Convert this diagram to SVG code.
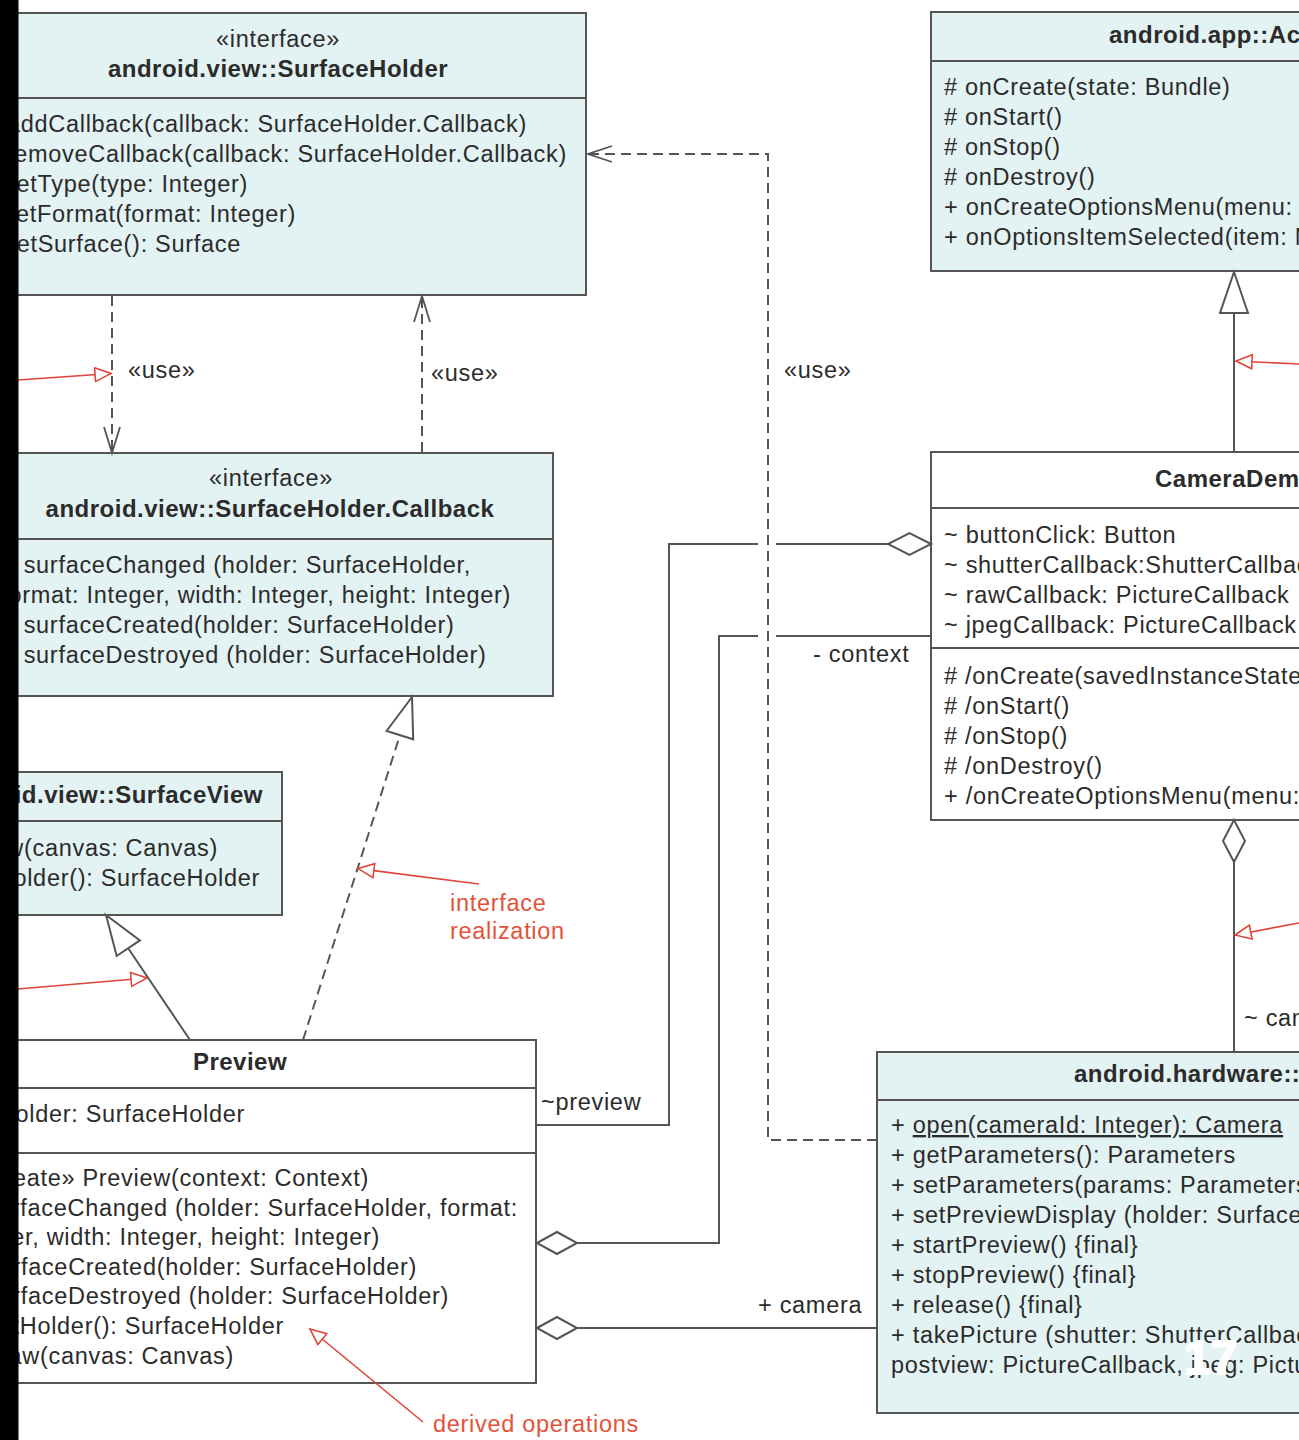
<svg xmlns="http://www.w3.org/2000/svg" width="1299" height="1440" viewBox="0 0 1299 1440">
<style>
.box{fill:#e3f2f2;stroke:#555;stroke-width:2}
.wbox{fill:#fff;stroke:#555;stroke-width:2}
.dv{stroke:#555;stroke-width:2}
.t{font-family:"Liberation Sans",Arial,sans-serif;font-size:23.5px;letter-spacing:0.7px;fill:#2b2b2b}
.b{font-weight:bold;font-size:24px;letter-spacing:0.5px}
.c{text-anchor:middle}
.e{text-anchor:end}
.ln{fill:none;stroke:#555;stroke-width:2}
.dash{stroke-dasharray:10 6}
.head{fill:#fff;stroke:#555;stroke-width:2}
.open{fill:none;stroke:#555;stroke-width:1.8}
.red{fill:none;stroke:#e0453a;stroke-width:1.6}
.rt{fill:#e2533a}
</style>
<defs>
<marker id="rarrow" markerUnits="userSpaceOnUse" markerWidth="20" markerHeight="20" viewBox="0 0 20 20" refX="17" refY="8" orient="auto">
<path d="M1,1 L17,8 L1,15 Z" fill="#fff" stroke="#e0453a" stroke-width="1.6"/>
</marker>
</defs>
<rect width="1299" height="1440" fill="#fff"/>

<g id="SurfaceHolder">
<rect class="box" x="-30" y="13" width="616" height="282"/>
<line class="dv" x1="-30" y1="98" x2="586" y2="98"/>
<text class="t c" x="278" y="47">«interface»</text>
<text class="t b c" x="278" y="77">android.view::SurfaceHolder</text>
<text class="t e" x="527" y="132">+ addCallback(callback: SurfaceHolder.Callback)</text>
<text class="t e" x="567" y="162">+ removeCallback(callback: SurfaceHolder.Callback)</text>
<text class="t e" x="248" y="192">+ setType(type: Integer)</text>
<text class="t e" x="296" y="222">+ setFormat(format: Integer)</text>
<text class="t e" x="241" y="252">+ getSurface(): Surface</text>
</g>

<g id="SurfaceHolderCallback">
<rect class="box" x="-13" y="453" width="566" height="243"/>
<line class="dv" x1="-13" y1="539" x2="553" y2="539"/>
<text class="t c" x="271" y="486">«interface»</text>
<text class="t b c" x="270" y="517">android.view::SurfaceHolder.Callback</text>
<text class="t" x="2" y="573">+ surfaceChanged (holder: SurfaceHolder,</text>
<text class="t e" x="511" y="603">format: Integer, width: Integer, height: Integer)</text>
<text class="t" x="2" y="633">+ surfaceCreated(holder: SurfaceHolder)</text>
<text class="t" x="2" y="663">+ surfaceDestroyed (holder: SurfaceHolder)</text>
</g>

<g id="SurfaceView">
<rect class="box" x="-61" y="772" width="343" height="143"/>
<line class="dv" x1="-61" y1="821" x2="282" y2="821"/>
<text class="t b e" x="263" y="803">android.view::SurfaceView</text>
<text class="t e" x="218" y="856">+ draw(canvas: Canvas)</text>
<text class="t e" x="260" y="886">+ getHolder(): SurfaceHolder</text>
</g>

<g id="Preview">
<rect class="wbox" x="-57" y="1040" width="593" height="343"/>
<line class="dv" x1="-57" y1="1088" x2="536" y2="1088"/>
<line class="dv" x1="-57" y1="1153" x2="536" y2="1153"/>
<text class="t b c" x="240" y="1070">Preview</text>
<text class="t e" x="245" y="1122">- holder: SurfaceHolder</text>
<text class="t e" x="369" y="1186">«create» Preview(context: Context)</text>
<text class="t e" x="518" y="1216">+ /surfaceChanged (holder: SurfaceHolder, format:</text>
<text class="t e" x="380" y="1245">Integer, width: Integer, height: Integer)</text>
<text class="t e" x="417" y="1275">+ /surfaceCreated(holder: SurfaceHolder)</text>
<text class="t e" x="449" y="1304">+ /surfaceDestroyed (holder: SurfaceHolder)</text>
<text class="t e" x="284" y="1334">+ /getHolder(): SurfaceHolder</text>
<text class="t e" x="234" y="1364">+ /draw(canvas: Canvas)</text>
</g>

<g id="Activity">
<rect class="box" x="931" y="12" width="600" height="259"/>
<line class="dv" x1="931" y1="61" x2="1531" y2="61"/>
<text class="t b" x="1109" y="43">android.app::Activity</text>
<text class="t" x="944" y="95"># onCreate(state: Bundle)</text>
<text class="t" x="944" y="125"># onStart()</text>
<text class="t" x="944" y="155"># onStop()</text>
<text class="t" x="944" y="185"># onDestroy()</text>
<text class="t" x="944" y="215">+ onCreateOptionsMenu(menu: Menu): Boolean</text>
<text class="t" x="944" y="245">+ onOptionsItemSelected(item: MenuItem): Boolean</text>
</g>

<g id="CameraDemo">
<rect class="wbox" x="931" y="452" width="600" height="368"/>
<line class="dv" x1="931" y1="508" x2="1531" y2="508"/>
<line class="dv" x1="931" y1="648" x2="1531" y2="648"/>
<text class="t b" x="1155" y="487">CameraDemo</text>
<text class="t" x="944" y="543">~ buttonClick: Button</text>
<text class="t" x="944" y="573">~ shutterCallback:ShutterCallback</text>
<text class="t" x="944" y="603">~ rawCallback: PictureCallback</text>
<text class="t" x="944" y="633">~ jpegCallback: PictureCallback</text>
<text class="t" x="944" y="684"># /onCreate(savedInstanceState: Bundle)</text>
<text class="t" x="944" y="714"># /onStart()</text>
<text class="t" x="944" y="744"># /onStop()</text>
<text class="t" x="944" y="774"># /onDestroy()</text>
<text class="t" x="944" y="804">+ /onCreateOptionsMenu(menu: Menu): Boolean</text>
</g>

<g id="Camera">
<rect class="box" x="877" y="1052" width="650" height="361"/>
<line class="dv" x1="877" y1="1100" x2="1527" y2="1100"/>
<text class="t b" x="1074" y="1082">android.hardware::Camera</text>
<text class="t" x="891" y="1133">+ <tspan text-decoration="underline">open(cameraId: Integer): Camera</tspan></text>
<text class="t" x="891" y="1163">+ getParameters(): Parameters</text>
<text class="t" x="891" y="1193">+ setParameters(params: Parameters)</text>
<text class="t" x="891" y="1223">+ setPreviewDisplay (holder: SurfaceHolder)</text>
<text class="t" x="891" y="1253">+ startPreview() {final}</text>
<text class="t" x="891" y="1283">+ stopPreview() {final}</text>
<text class="t" x="891" y="1313">+ release() {final}</text>
<text class="t" x="891" y="1343">+ takePicture (shutter: ShutterCallback, raw: PictureCallback,</text>
<text class="t" x="891" y="1373">postview: PictureCallback, jpeg: PictureCallback)</text>
</g>

<g id="connectors">
<line class="ln dash" x1="112" y1="296" x2="112" y2="452"/>
<polyline class="open" points="104,427 112,453 120,427"/>
<text class="t" x="128" y="378">«use»</text>
<line class="ln dash" x1="422" y1="452" x2="422" y2="296"/>
<polyline class="open" points="414,322 422,296 430,322"/>
<text class="t" x="431" y="381">«use»</text>
<path class="ln dash" d="M877 1140 H768 V154 H589"/>
<polyline class="open" points="612,146 588,154 612,162"/>
<text class="t" x="784" y="378">«use»</text>
<line class="ln" x1="1234" y1="452" x2="1234" y2="313"/>
<polygon class="head" points="1234,272 1220,313 1248,313"/>
<line class="ln" x1="190" y1="1040" x2="128" y2="948"/>
<polygon class="head" points="106,915 116.7,956 139.9,940.4"/>
<line class="ln dash" x1="303" y1="1040" x2="400" y2="735"/>
<polygon class="head" points="412,697 386.6,730.9 413.2,739.3"/>
<path class="ln" d="M536 1125 H669 V544 H758"/>
<path class="ln" d="M776 544 H888"/>
<polygon class="head" points="931,544 909.5,533 888,544 909.5,555"/>
<text class="t" x="541" y="1110">~preview</text>
<path class="ln" d="M577 1243 H719 V636 H758"/>
<path class="ln" d="M776 636 H931"/>
<polygon class="head" points="537,1243 557,1232 577,1243 557,1254"/>
<text class="t" x="813" y="662">- context</text>
<line class="ln" x1="577" y1="1328" x2="877" y2="1328"/>
<polygon class="head" points="537,1328 557,1317 577,1328 557,1339"/>
<text class="t" x="758" y="1313">+ camera</text>
<line class="ln" x1="1234" y1="862" x2="1234" y2="1052"/>
<polygon class="head" points="1234,820 1245,841 1234,862 1223,841"/>
<text class="t" x="1244" y="1026">~ camera</text>
</g>

<g id="annotations">
<line class="red" x1="18" y1="380" x2="111" y2="373.5" marker-end="url(#rarrow)"/>
<line class="red" x1="1299" y1="364" x2="1236" y2="361" marker-end="url(#rarrow)"/>
<line class="red" x1="18" y1="989" x2="147" y2="978" marker-end="url(#rarrow)"/>
<line class="red" x1="479" y1="884" x2="358" y2="868.6" marker-end="url(#rarrow)"/>
<line class="red" x1="1299" y1="923" x2="1235" y2="935" marker-end="url(#rarrow)"/>
<line class="red" x1="423" y1="1422" x2="310" y2="1329" marker-end="url(#rarrow)"/>
<text class="t rt" x="450" y="911">interface</text>
<text class="t rt" x="450" y="939">realization</text>
<text class="t rt" x="433" y="1432">derived operations</text>
</g>

<rect x="0" y="0" width="18.5" height="1440" fill="#000"/>
<text x="1184" y="1374" font-family="'Liberation Sans', Arial, sans-serif" font-weight="bold" font-size="48" fill="#fff" stroke="#fff" stroke-width="2">17</text>
</svg>
